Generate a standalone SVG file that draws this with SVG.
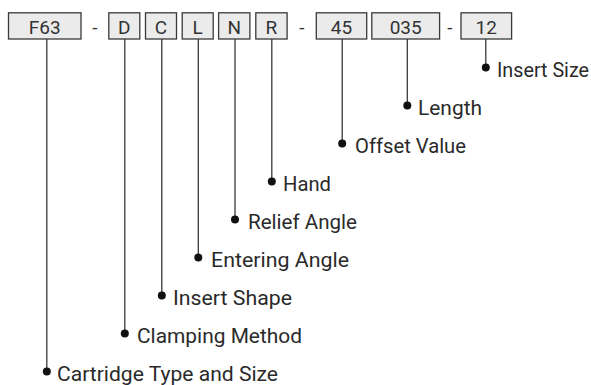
<svg xmlns="http://www.w3.org/2000/svg" width="591" height="385" viewBox="0 0 591 385">
<style>
.box{fill:#ebebeb;stroke:#3a3a3a;stroke-width:1.3}
.bt{font-family:Roboto,"Liberation Sans",sans-serif;font-size:19px;fill:#333;text-anchor:middle}
.dash{font-family:Roboto,"Liberation Sans",sans-serif;font-size:19px;fill:#333;text-anchor:middle}
.lbl{font-family:Roboto,"Liberation Sans",sans-serif;font-size:20px;fill:#2a2a2a}
.ln{stroke:#3a3a3a;stroke-width:1.3;fill:none}
.dot{fill:#111}
</style>
<rect width="591" height="385" fill="#fff"/>
<g id="node-F63"><rect class="box" x="8.5" y="12.8" width="72.5" height="26.2"/><text class="bt" x="44.7" y="33.8">F63</text></g>
<text class="dash" x="95" y="33.8">-</text>
<g id="node-D"><rect class="box" x="108.8" y="12.8" width="31" height="26.2"/><text class="bt" x="124.3" y="33.8">D</text></g>
<g id="node-C"><rect class="box" x="145.5" y="12.8" width="31" height="26.2"/><text class="bt" x="161" y="33.8">C</text></g>
<g id="node-L"><rect class="box" x="182.2" y="12.8" width="31" height="26.2"/><text class="bt" x="197.7" y="33.8">L</text></g>
<g id="node-N"><rect class="box" x="218.6" y="12.8" width="31.3" height="26.2"/><text class="bt" x="234.2" y="33.8">N</text></g>
<g id="node-R"><rect class="box" x="255.8" y="12.8" width="31.3" height="26.2"/><text class="bt" x="271.4" y="33.8">R</text></g>
<text class="dash" x="302" y="33.8">-</text>
<g id="node-45"><rect class="box" x="316.3" y="12.8" width="50.4" height="26.2"/><text class="bt" x="341.5" y="33.8">45</text></g>
<g id="node-035"><rect class="box" x="371.8" y="12.8" width="67.8" height="26.2"/><text class="bt" x="405.7" y="33.8">035</text></g>
<text class="dash" x="450" y="33.8">-</text>
<g id="node-12"><rect class="box" x="461" y="12.8" width="50.6" height="26.2"/><text class="bt" x="486.3" y="33.8">12</text></g>
<g id="connectors">
<path class="ln" d="M46.8 39V371.5M124.8 39V333.5M161.8 39V295.5M198.3 39V257.5M235 39V219.5M271.8 39V181.5M342.2 39V143.5M407.3 39V105.5M485.8 39V67.5"/>
<circle class="dot" cx="46.8" cy="371.5" r="4"/>
<circle class="dot" cx="124.8" cy="333.5" r="4"/>
<circle class="dot" cx="161.8" cy="295.5" r="4"/>
<circle class="dot" cx="198.3" cy="257.5" r="4"/>
<circle class="dot" cx="235" cy="219.5" r="4"/>
<circle class="dot" cx="271.8" cy="181.5" r="4"/>
<circle class="dot" cx="342.2" cy="143.5" r="4"/>
<circle class="dot" cx="407.3" cy="105.5" r="4"/>
<circle class="dot" cx="485.8" cy="67.5" r="4"/>
</g>
<g id="labels">
<text class="lbl" x="57" y="381" textLength="221" lengthAdjust="spacingAndGlyphs">Cartridge Type and Size</text>
<text class="lbl" x="137" y="343" textLength="165" lengthAdjust="spacingAndGlyphs">Clamping Method</text>
<text class="lbl" x="173" y="305" textLength="119" lengthAdjust="spacingAndGlyphs">Insert Shape</text>
<text class="lbl" x="211" y="267" textLength="138" lengthAdjust="spacingAndGlyphs">Entering Angle</text>
<text class="lbl" x="248" y="229" textLength="109" lengthAdjust="spacingAndGlyphs">Relief Angle</text>
<text class="lbl" x="283" y="191" textLength="48" lengthAdjust="spacingAndGlyphs">Hand</text>
<text class="lbl" x="355" y="153" textLength="111" lengthAdjust="spacingAndGlyphs">Offset Value</text>
<text class="lbl" x="418" y="115" textLength="64" lengthAdjust="spacingAndGlyphs">Length</text>
<text class="lbl" x="497" y="77" textLength="92" lengthAdjust="spacingAndGlyphs">Insert Size</text>
</g>
</svg>
